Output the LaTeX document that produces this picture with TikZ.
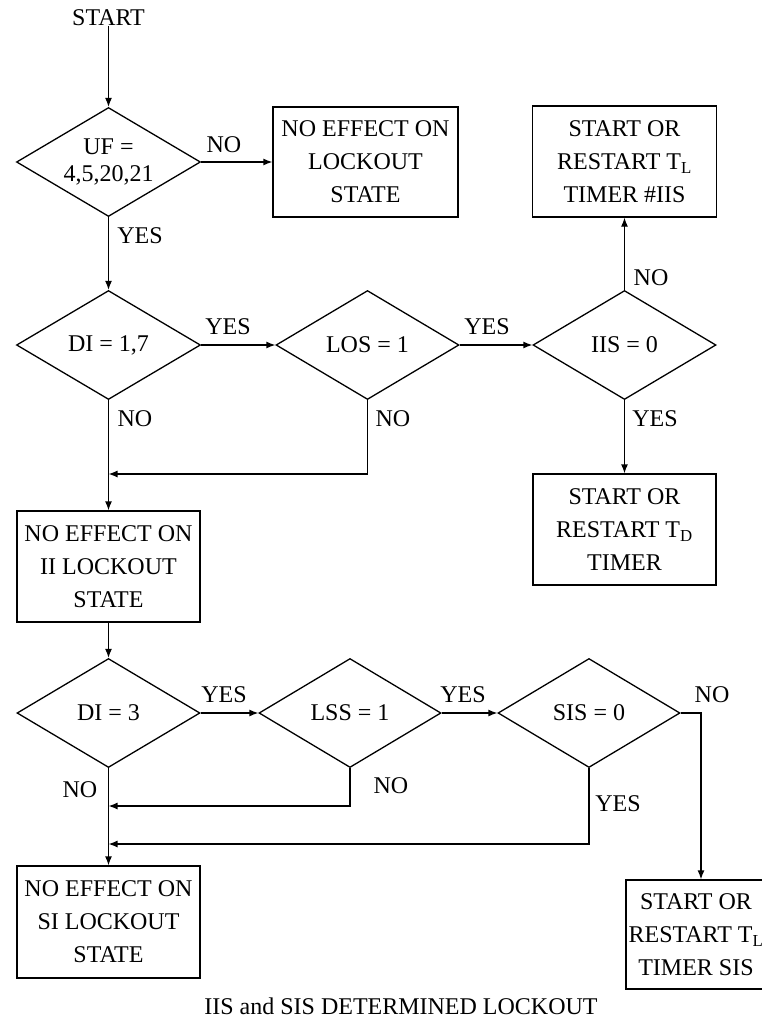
\documentclass[tikz,border=0pt]{standalone}
\usepackage{fontspec}
\setmainfont{Liberation Serif}
\usetikzlibrary{shapes.geometric,arrows.meta}
\begin{document}
\begin{tikzpicture}[x=1pt,y=-1pt,
 every node/.style={font=\fontsize{24}{33}\selectfont},
 box/.style={draw, line width=1.3pt, rectangle, minimum width=184pt, minimum height=111pt, align=center, inner sep=0pt},
 dia/.style={draw, line width=1.3pt, diamond, minimum width=184pt, minimum height=109pt, inner sep=0pt},
 lbl/.style={inner sep=0pt},
 arr/.style={line width=1.3pt, -{Latex[length=9pt,width=7pt]}},
 ln/.style={line width=1.3pt}]
\path[use as bounding box] (0,0) rectangle (762,1018);
\clip (0,0) rectangle (762,1018);

% nodes
\node[lbl] (start) at (108.5,18) {START};
\node[dia, label={[align=center,font=\fontsize{24}{27}\selectfont]center:UF =\\4,5,20,21}] (uf) at (108.5,162) {};
\node[box, minimum width=185pt, minimum height=110pt] (b1) at (365.5,162) {NO EFFECT ON\\LOCKOUT\\STATE};
\node[box] (tl1) at (624.5,161.5) {START OR\\RESTART T\textsubscript{L}\\TIMER \#IIS};

\node[dia, label={center:DI = 1,7}] (di1) at (108.5,345) {};
\node[dia, minimum width=183pt, label={center:LOS = 1}] (los) at (367.5,345) {};
\node[dia, minimum width=183pt, label={center:IIS = 0}] (iis) at (624.5,345) {};
\node[box, minimum width=183pt] (td) at (624.5,529.5) {START OR\\RESTART T\textsubscript{D}\\TIMER};
\node[box, minimum width=183pt] (ii) at (108.5,566.5) {NO EFFECT ON\\II LOCKOUT\\STATE};

\node[dia, minimum width=183pt, label={center:DI = 3}] (di3) at (108.5,713) {};
\node[dia, minimum width=182pt, label={center:LSS = 1}] (lss) at (350,713) {};
\node[dia, minimum width=182pt, label={center:SIS = 0}] (sis) at (589,713) {};
\node[box, minimum width=183pt, minimum height=112pt] (si) at (108.5,922) {NO EFFECT ON\\SI LOCKOUT\\STATE};
\node[draw, line width=1.3pt, rectangle, minimum width=144pt, minimum height=109pt, inner sep=0pt] (tl2) at (698,934.5) {};
\node[lbl, align=center] (tl2t) at (696,934.5) {START OR\\RESTART T\textsubscript{L}\\TIMER SIS};

\node[lbl] (cap) at (401,1006) {IIS and SIS DETERMINED LOCKOUT};

% coordinates
\coordinate (m1) at (108.5,474);
\coordinate (m2) at (108.5,806);
\coordinate (m3) at (108.5,844);
\coordinate (sr) at (701,713);

% connectors
\draw[arr] (start.south) -- (uf.north);
\draw[arr] (uf.east) -- (b1.west);
\draw[arr] (uf.south) -- (di1.north);
\draw[arr] (di1.east) -- (los.west);
\draw[arr] (los.east) -- (iis.west);
\draw[arr] (iis.north) -- (tl1.south);
\draw[arr] (iis.south) -- (td.north);
\draw[arr] (di1.south) -- (ii.north);
\draw[arr] (los.south) |- (m1);
\draw[arr] (ii.south) -- (di3.north);
\draw[arr] (di3.east) -- (lss.west);
\draw[arr] (lss.east) -- (sis.west);
\draw[arr] (sis.east) -- (sr) -- (sr |- tl2.north);
\draw[arr] (lss.south) |- (m2);
\draw[arr] (sis.south) |- (m3);
\draw[arr] (di3.south) -- (si.north);

% labels
\node[lbl] (l1) at (224,145) {NO};
\node[lbl] (l2) at (140,236) {YES};
\node[lbl] (l3) at (228,327) {YES};
\node[lbl] (l4) at (487,327) {YES};
\node[lbl] (l5) at (651,278) {NO};
\node[lbl] (l6) at (135,419) {NO};
\node[lbl] (l7) at (393,419) {NO};
\node[lbl] (l8) at (655,419) {YES};
\node[lbl] (l9) at (224,695) {YES};
\node[lbl] (l10) at (463,695) {YES};
\node[lbl] (l11) at (712,695) {NO};
\node[lbl] (l12) at (80,790) {NO};
\node[lbl] (l13) at (391,786) {NO};
\node[lbl] (l14) at (618,804) {YES};
\end{tikzpicture}
\end{document}
